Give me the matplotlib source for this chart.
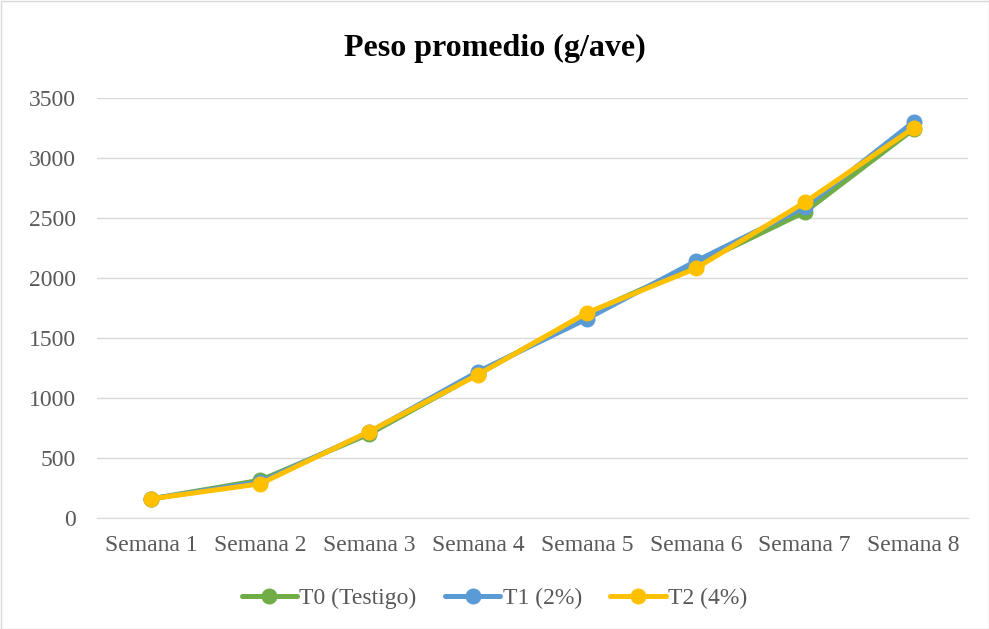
import matplotlib
matplotlib.use("Agg")
import matplotlib.pyplot as plt
from matplotlib.patches import Rectangle

categories = ["Semana 1", "Semana 2", "Semana 3", "Semana 4",
              "Semana 5", "Semana 6", "Semana 7", "Semana 8"]
t0 = [160, 315, 700, 1200, 1700, 2110, 2550, 3240]
t1 = [160, 300, 715, 1220, 1660, 2140, 2590, 3300]
t2 = [160, 285, 720, 1195, 1710, 2080, 2630, 3250]
series = [("T0 (Testigo)", t0, "#70AD47"),
          ("T1 (2%)", t1, "#5B9BD5"),
          ("T2 (4%)", t2, "#FFC000")]
yticks = [0, 500, 1000, 1500, 2000, 2500, 3000, 3500]

plt.rcParams['font.family'] = ['Liberation Serif', 'DejaVu Serif']

fig = plt.figure(figsize=(9.89, 6.29), dpi=100)
ax = fig.add_axes([97/989, 111/629, 871/989, 420/629])

x = list(range(len(categories)))
for name, vals, col in series:
    ax.plot(x, vals, color=col, lw=3.6, marker='o', ms=10.5, label=name,
            solid_capstyle='round', solid_joinstyle='round')

ax.set_xlim(-0.5, len(categories) - 0.5)
ax.set_ylim(0, 3500)
ax.set_yticks(yticks)
ax.set_xticks(x)
ax.set_xticklabels(categories)
ax.tick_params(axis='both', length=0, labelsize=17, colors='#595959')
ax.tick_params(axis='x', pad=12)
ax.tick_params(axis='y', pad=15)
ax.grid(axis='y', color='#D9D9D9', lw=1)
ax.set_axisbelow(True)
for s in ['top', 'right', 'left']:
    ax.spines[s].set_visible(False)
ax.spines['bottom'].set_color('#D9D9D9')

fig.text(0.5, 1 - 48/629, "Peso promedio (g/ave)", ha='center', va='center',
         fontsize=23, fontweight='bold', color='black')

leg = fig.legend(loc='center', bbox_to_anchor=(0.5, 1 - 598/629), ncol=3,
                 frameon=False, fontsize=17, handlelength=2.35,
                 columnspacing=1.2, handletextpad=0.1)
for t in leg.get_texts():
    t.set_color('#595959')

fig.patches.append(Rectangle((0.5/989, 0.5/629), 1 - 1/989, 1 - 1/629,
                             transform=fig.transFigure, fill=False,
                             edgecolor='#D9D9D9', lw=1))

fig.savefig("out.png", dpi=100)
